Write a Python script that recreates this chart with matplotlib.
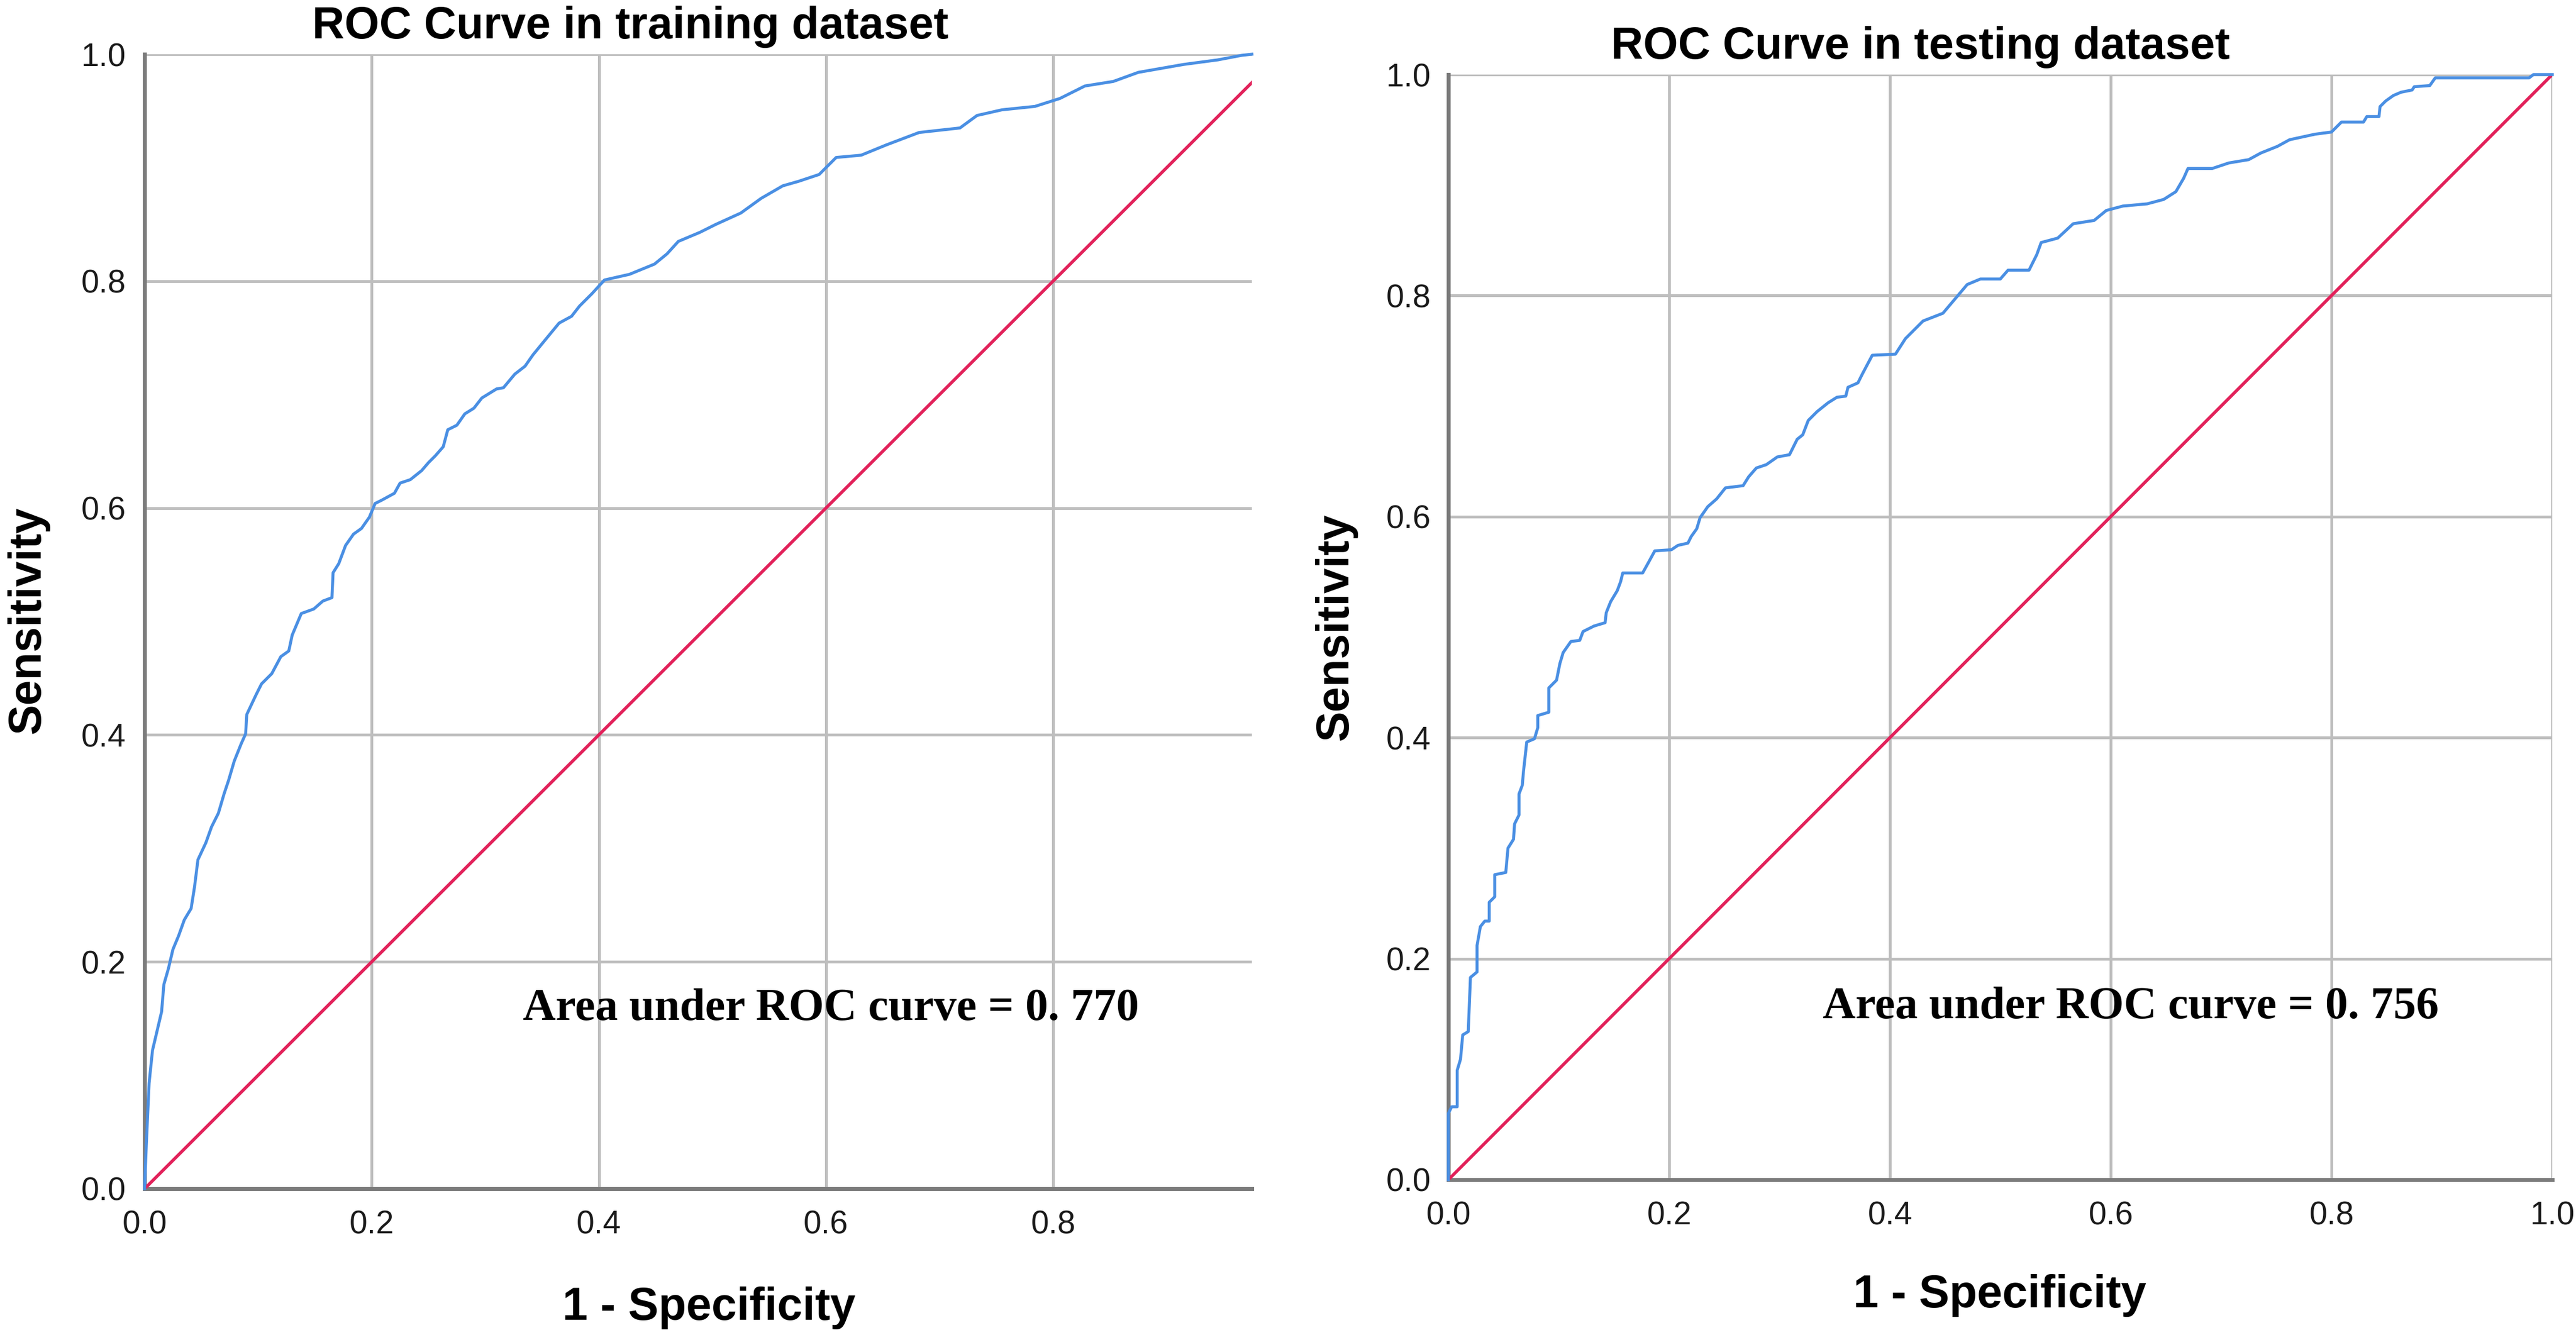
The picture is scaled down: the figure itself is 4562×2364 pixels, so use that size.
import matplotlib
matplotlib.use("Agg")
import matplotlib.pyplot as plt
import numpy as np

# ---------------- data ----------------
train_fpr = [0.0, 0.0016, 0.004, 0.007, 0.011, 0.015, 0.017, 0.021, 0.025, 0.030, 0.035, 0.041,
             0.044, 0.047, 0.054, 0.059, 0.065, 0.070, 0.074, 0.079, 0.085, 0.089, 0.090, 0.098,
             0.103, 0.112, 0.120, 0.127, 0.130, 0.138, 0.149, 0.157, 0.165, 0.166, 0.171, 0.177,
             0.184, 0.191, 0.198, 0.203, 0.209, 0.220, 0.225, 0.234, 0.244, 0.250, 0.256, 0.263,
             0.267, 0.275, 0.282, 0.290, 0.297, 0.310, 0.316, 0.326, 0.335, 0.342, 0.351, 0.365,
             0.376, 0.383, 0.394, 0.405, 0.427, 0.449, 0.460, 0.470, 0.489, 0.503, 0.525, 0.543,
             0.562, 0.576, 0.594, 0.609, 0.631, 0.653, 0.682, 0.718, 0.733, 0.755, 0.784, 0.806,
             0.828, 0.853, 0.875, 0.915, 0.945, 0.966, 0.975]
train_tpr = [0.0, 0.040, 0.093, 0.122, 0.139, 0.156, 0.180, 0.194, 0.211, 0.223, 0.237, 0.247,
             0.266, 0.290, 0.305, 0.319, 0.331, 0.348, 0.360, 0.377, 0.392, 0.401, 0.418, 0.435,
             0.445, 0.454, 0.469, 0.474, 0.488, 0.507, 0.511, 0.518, 0.521, 0.543, 0.551, 0.567,
             0.577, 0.582, 0.592, 0.604, 0.607, 0.613, 0.622, 0.625, 0.633, 0.640, 0.646, 0.654,
             0.669, 0.673, 0.683, 0.688, 0.697, 0.705, 0.706, 0.718, 0.725, 0.735, 0.746, 0.763,
             0.769, 0.778, 0.789, 0.801, 0.806, 0.815, 0.824, 0.835, 0.843, 0.850, 0.860, 0.873,
             0.884, 0.888, 0.894, 0.909, 0.911, 0.920, 0.931, 0.935, 0.946, 0.951, 0.954, 0.961,
             0.972, 0.976, 0.984, 0.991, 0.995, 0.999, 1.0]

test_fpr = [0.0, 0.0, 0.003, 0.008, 0.008, 0.011, 0.013, 0.018, 0.020, 0.026, 0.026, 0.029,
            0.033, 0.037, 0.037, 0.042, 0.042, 0.052, 0.054, 0.059, 0.060, 0.064, 0.064, 0.067,
            0.068, 0.071, 0.078, 0.081, 0.081, 0.091, 0.091, 0.098, 0.101, 0.104, 0.111, 0.119,
            0.122, 0.132, 0.142, 0.143, 0.147, 0.153, 0.156, 0.158, 0.176, 0.181, 0.187, 0.202,
            0.208, 0.217, 0.220, 0.225, 0.228, 0.235, 0.243, 0.251, 0.267, 0.272, 0.279, 0.288,
            0.298, 0.309, 0.316, 0.321, 0.326, 0.334, 0.344, 0.352, 0.360, 0.362, 0.371, 0.375,
            0.384, 0.405, 0.414, 0.430, 0.448, 0.459, 0.470, 0.482, 0.500, 0.507, 0.526, 0.533,
            0.537, 0.552, 0.566, 0.585, 0.596, 0.611, 0.633, 0.648, 0.659, 0.666, 0.670, 0.692,
            0.707, 0.725, 0.736, 0.751, 0.762, 0.785, 0.800, 0.809, 0.829, 0.832, 0.843, 0.844,
            0.849, 0.856, 0.863, 0.873, 0.875, 0.889, 0.894, 0.979, 0.983, 1.0]
test_tpr = [0.0, 0.060, 0.066, 0.066, 0.099, 0.109, 0.131, 0.134, 0.183, 0.188, 0.212, 0.229,
            0.234, 0.234, 0.251, 0.256, 0.276, 0.278, 0.300, 0.308, 0.322, 0.330, 0.349, 0.357,
            0.369, 0.396, 0.399, 0.409, 0.420, 0.423, 0.445, 0.452, 0.467, 0.477, 0.487, 0.488,
            0.496, 0.501, 0.504, 0.513, 0.523, 0.533, 0.541, 0.549, 0.549, 0.558, 0.569, 0.570,
            0.574, 0.576, 0.582, 0.589, 0.599, 0.609, 0.616, 0.626, 0.628, 0.636, 0.644, 0.647,
            0.654, 0.656, 0.670, 0.674, 0.687, 0.695, 0.703, 0.708, 0.709, 0.717, 0.721, 0.729,
            0.746, 0.747, 0.761, 0.777, 0.784, 0.797, 0.810, 0.815, 0.815, 0.823, 0.823, 0.837,
            0.848, 0.852, 0.865, 0.868, 0.877, 0.881, 0.883, 0.887, 0.894, 0.906, 0.915, 0.915,
            0.920, 0.923, 0.929, 0.935, 0.941, 0.946, 0.948, 0.957, 0.957, 0.962, 0.962, 0.971,
            0.976, 0.981, 0.984, 0.986, 0.989, 0.990, 0.997, 0.997, 1.0, 1.0]

ticks = [0.0, 0.2, 0.4, 0.6, 0.8, 1.0]
tick_labels = ["0.0", "0.2", "0.4", "0.6", "0.8", "1.0"]
titles = ["ROC Curve in training dataset", "ROC Curve in testing dataset"]
auc_texts = ["Area under ROC curve = 0. 770", "Area under ROC curve = 0. 756"]
xlabel = "1 - Specificity"
ylabel = "Sensitivity"
x_max = [0.975, 1.0]

# ---------------- style ----------------
W, H = 4562, 2364
DPI = 100
SANS = ["Liberation Sans", "DejaVu Sans"]
SERIF = ["Liberation Serif", "DejaVu Serif"]
BLUE = "#4A8FE3"
RED = "#E2215A"
GRID = "#BEBEBE"
SPINE = "#7A7A7A"

fig = plt.figure(figsize=(W / DPI, H / DPI), dpi=DPI)
fig.patch.set_facecolor("white")

# axes boxes in pixels: (x0, x1, y_top, y_bottom)
boxes = [(256, 2217, 96, 2105), (2565, 4520, 132, 2089)]
title_pos = [(1116, 68), (3401, 104)]
xlabel_pos = [(1256, 2337), (3542, 2315)]
ylabel_pos = [(12, 1098), (2328, 1110)]
auc_pos = [(0.333, 0.149), (0.339, 0.146)]

curves = [(train_fpr, train_tpr), (test_fpr, test_tpr)]

for i in range(2):
    x0, x1, yt, yb = boxes[i]
    ax = fig.add_axes([x0 / W, (H - yb) / H, (x1 - x0) / W, (yb - yt) / H])
    ax.set_xlim(0, x_max[i])
    ax.set_ylim(0, 1.0)
    xt = [t for t in ticks if t <= x_max[i] + 1e-9]
    ax.set_xticks(xt)
    ax.set_xticklabels(tick_labels[:len(xt)])
    ax.set_yticks(ticks)
    ax.set_yticklabels(tick_labels)
    ax.tick_params(axis="both", length=0, labelsize=41, colors="#1a1a1a")
    ax.tick_params(axis="x", pad=27)
    ax.tick_params(axis="y", pad=24 if i == 0 else 22)
    for lab in ax.get_xticklabels() + ax.get_yticklabels():
        lab.set_fontfamily(SANS)
    ax.grid(True, color=GRID, linewidth=3.6, zorder=0)
    ax.set_axisbelow(True)
    for s in ["top", "right"]:
        ax.spines[s].set_visible(False)
    for s in ["left", "bottom"]:
        ax.spines[s].set_color(SPINE)
        ax.spines[s].set_linewidth(5.0)
        ax.spines[s].set_zorder(1)

    # diagonal reference line
    ax.plot([0, 1], [0, 1], color=RED, linewidth=4.0, zorder=3, clip_on=True)
    # ROC curve
    fx, fy = curves[i]
    ax.plot(fx, fy, color=BLUE, linewidth=3.8, zorder=4, clip_on=False,
            solid_joinstyle="round")

    ax.text(auc_pos[i][0], auc_pos[i][1], auc_texts[i], family=SERIF,
            fontweight="bold", fontsize=58, ha="left", va="baseline",
            color="black", zorder=5)

    tx, ty = title_pos[i]
    fig.text(tx / W, (H - ty) / H, titles[i], family=SANS, fontweight="bold",
             fontsize=57, ha="center", va="baseline", color="black")
    lx, ly = xlabel_pos[i]
    fig.text(lx / W, (H - ly) / H, xlabel, family=SANS, fontweight="bold",
             fontsize=58, ha="center", va="baseline", color="black")
    yx, yy = ylabel_pos[i]
    fig.text(yx / W, (H - yy) / H, ylabel, family=SANS, fontweight="bold",
             fontsize=58, ha="left", va="center", rotation=90, color="black")

fig.savefig("out.png", dpi=DPI, facecolor="white")
